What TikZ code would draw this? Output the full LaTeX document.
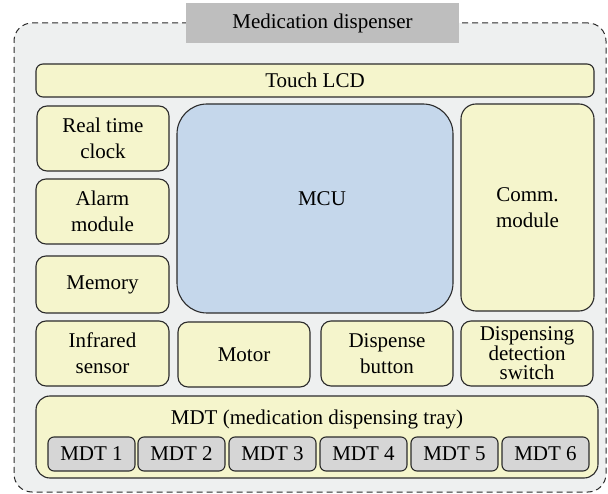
\documentclass[tikz,border=0pt]{standalone}
\usepackage{fontspec}
\setmainfont{Liberation Serif}
\definecolor{bgfill}{HTML}{EEF0F0}
\definecolor{yelfill}{HTML}{F5F5CC}
\definecolor{mcufill}{HTML}{C5D7EB}
\definecolor{trayfill}{HTML}{D6D6D6}
\definecolor{titlefill}{HTML}{BEBEBE}
\definecolor{edge}{HTML}{2B2B2B}
\tikzset{
  unit/.style={draw=edge, line width=1.1pt, fill=yelfill, rounded corners=10pt,
    inner sep=0pt, align=center, font=\fontsize{21}{26}\selectfont},
  mcubox/.style={unit, fill=mcufill, rounded corners=30pt},
  slot/.style={unit, fill=trayfill, rounded corners=6pt,
    minimum width=87pt, minimum height=34pt},
  txt/.style={inner sep=0pt, align=center, font=\fontsize{21}{26}\selectfont},
}
\begin{document}
\begin{tikzpicture}[x=1pt, y=-1pt]
\useasboundingbox (0,0) rectangle (608,494);
% enclosure
\node (outer) [draw=edge, line width=1pt, dash pattern=on 6pt off 4pt, fill=bgfill,
  rounded corners=18pt, minimum width=592pt, minimum height=469pt, inner sep=0pt]
  at (310,257.5) {};
\node (title) [txt, fill=titlefill, minimum width=273pt, minimum height=40pt]
  at (322.5,23) {Medication dispenser};
% top bar
\node (lcd) [unit, rounded corners=7pt, minimum width=558pt, minimum height=33pt]
  at (315,80.5) {Touch LCD};
% left column
\node (rtc) [unit, minimum width=132pt, minimum height=65pt] at (103,138.5) {Real time\\clock};
\node (alarm) [unit, minimum width=133pt, minimum height=65pt] at (102.5,211.5) {Alarm\\module};
\node (mem) [unit, minimum width=133pt, minimum height=57pt] at (102.5,284.5) {Memory};
% centre and right
\node (mcu) [mcubox, minimum width=276pt, minimum height=209pt] at (315,208.5) {};
\node (mcutext) [txt] at (322,199) {MCU};
\node (comm) [unit, rounded corners=15pt, minimum width=133pt, minimum height=207pt]
  at (527.5,207.5) {Comm.\\module};
% lower row
\node (ir) [unit, minimum width=133pt, minimum height=65pt] at (102.5,353.5) {Infrared\\sensor};
\node (motor) [unit, minimum width=132pt, minimum height=65pt] at (244,354.5) {Motor};
\node (btn) [unit, minimum width=132pt, minimum height=65pt] at (387,353.5) {Dispense\\button};
\node (dds) [unit, minimum width=132pt, minimum height=65pt,
  font=\fontsize{21}{19}\selectfont] at (527,353.5) {Dispensing\\detection\\switch};
% tray
\node (mdt) [unit, rounded corners=14pt, minimum width=562pt, minimum height=82pt]
  at (317,437) {};
\node (mdttitle) [txt] at (317,419) {MDT (medication dispensing tray)};
\foreach \i/\cx in {1/91.5, 2/181.5, 3/272.5, 4/363.5, 5/454.5, 6/545.5}
  \node (mdt\i) [slot] at (\cx,454) {MDT \i};
\end{tikzpicture}
\end{document}
